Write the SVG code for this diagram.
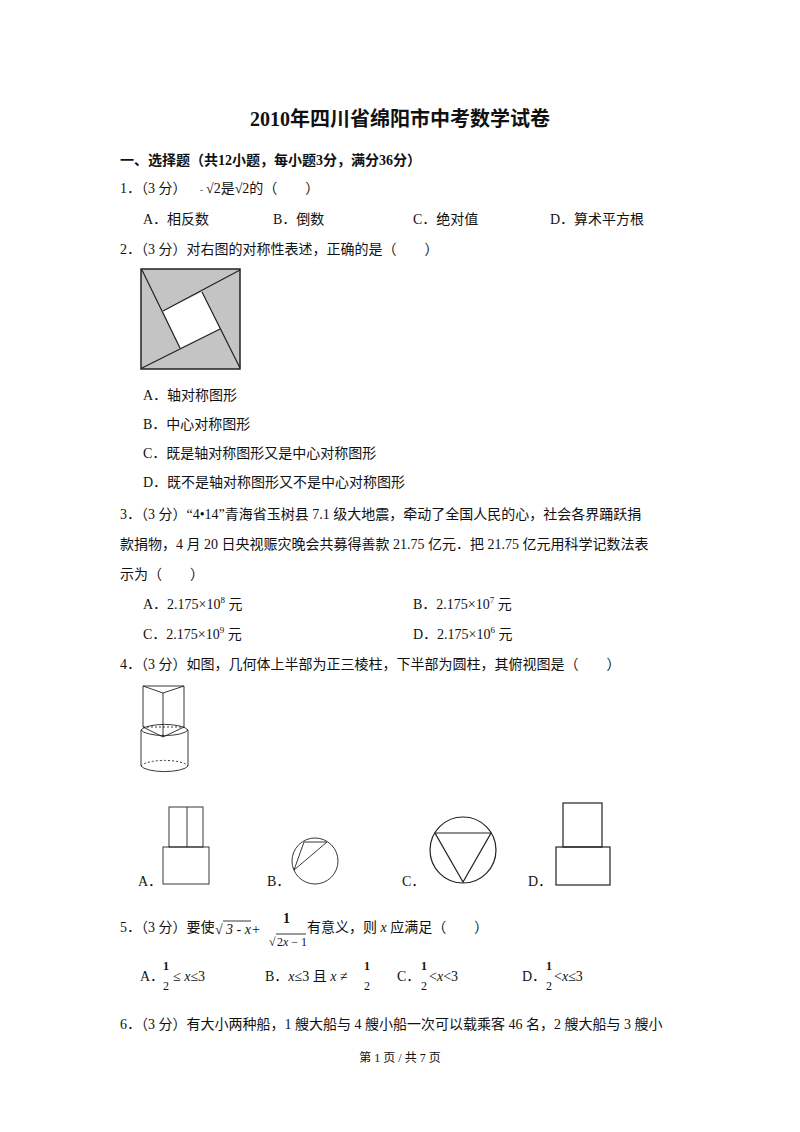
<svg xmlns="http://www.w3.org/2000/svg" width="800" height="1132" viewBox="0 0 800 1132">
<style>
text{font-family:"Liberation Serif","Noto Sans CJK SC",serif;font-size:14px;fill:#111}
.b{font-weight:bold}
.ln{stroke:#222;stroke-width:1.2;fill:none}
.th{stroke:#222;stroke-width:0.9;fill:none}
</style>
<rect width="800" height="1132" fill="#fff"/>
<text class="b" x="400" y="126" text-anchor="middle" style="font-size:20px">2010年四川省绵阳市中考数学试卷</text>
<text class="b" x="120" y="165">一、选择题（共12小题，每小题3分，满分36分）</text>
<g id="q1">
<text x="120" y="193">1．（3 分）</text>
<text x="200" y="193" style="font-size:9px">-</text>
<text x="206" y="193">√2是√2的（　　）</text>
<text x="143" y="224">A．相反数</text><text x="273" y="224">B．倒数</text><text x="413" y="224">C．绝对值</text><text x="550" y="224">D．算术平方根</text>
</g>
<g id="q2">
<text x="120" y="254">2．（3 分）对右图的对称性表述，正确的是（　　）</text>
<rect x="141" y="269" width="99" height="100" fill="#c4c4c4" stroke="#222" stroke-width="1.5"/>
<polygon points="163,311 202,292 220,329 180,348" fill="#fff"/>
<path class="ln" d="M240,270L163,311M142,270L180,348M142,368L220,329M240,368L202,292"/>
<text x="143" y="400">A．轴对称图形</text>
<text x="143" y="429">B．中心对称图形</text>
<text x="143" y="458">C．既是轴对称图形又是中心对称图形</text>
<text x="143" y="487">D．既不是轴对称图形又不是中心对称图形</text>
</g>
<g id="q3">
<text x="120" y="519">3．（3 分）“4•14”青海省玉树县 7.1 级大地震，牵动了全国人民的心，社会各界踊跃捐</text>
<text x="120" y="549">款捐物，4 月 20 日央视赈灾晚会共募得善款 21.75 亿元．把 21.75 亿元用科学记数法表</text>
<text x="120" y="579">示为（　　）</text>
<text x="143" y="609">A．2.175×10<tspan dy="-6" style="font-size:9px">8</tspan><tspan dy="6"> 元</tspan></text>
<text x="413" y="609">B．2.175×10<tspan dy="-6" style="font-size:9px">7</tspan><tspan dy="6"> 元</tspan></text>
<text x="143" y="639">C．2.175×10<tspan dy="-6" style="font-size:9px">9</tspan><tspan dy="6"> 元</tspan></text>
<text x="413" y="639">D．2.175×10<tspan dy="-6" style="font-size:9px">6</tspan><tspan dy="6"> 元</tspan></text>
</g>
<g id="q4">
<text x="120" y="669">4．（3 分）如图，几何体上半部为正三棱柱，下半部为圆柱，其俯视图是（　　）</text>
<path class="th" d="M143,686L184,686L163,693Z M143,686V727 M184,686V727 M163,693V737 M143,727L163,737L184,727"/>
<path class="th" stroke-dasharray="2,2" d="M143,727H184"/>
<path class="th" d="M141,730A24,7 0 0 1 188,730A24,7 0 0 1 141,730Z M141,730V766 M188,730V766 M141,766A24,7 0 0 0 188,766"/>
<path class="th" stroke-dasharray="2,2" d="M141,766A24,7 0 0 1 188,766"/>
<text x="138" y="886">A．</text>
<rect class="th" x="169" y="807" width="34" height="40"/><path class="th" d="M187,807V847"/>
<rect class="th" x="163" y="847" width="46" height="37"/>
<text x="267" y="886">B．</text>
<circle class="th" cx="315" cy="861" r="23"/>
<path class="th" d="M304,842H327L294,870Z"/>
<text x="402" y="886">C．</text>
<circle class="ln" cx="463" cy="850" r="33"/>
<path class="ln" d="M435,833H491L463,882Z"/>
<text x="528" y="886">D．</text>
<rect class="ln" x="563" y="803" width="39" height="44"/>
<rect class="ln" x="556" y="847" width="54" height="38"/>
</g>
<g id="q5">
<text x="120" y="932">5．（3 分）要使</text>
<text x="215" y="934">√</text><path class="th" d="M223,921H251"/>
<text x="226" y="934" style="font-style:italic">3 - x</text>
<text x="252" y="934">+</text>
<text class="b" x="283" y="923">1</text>
<text x="269" y="946" style="font-size:12px">√</text><path class="th" d="M276,934H306"/>
<text x="277" y="946" style="font-size:12px"><tspan>2</tspan><tspan style="font-style:italic">x</tspan> − 1</text>
<text x="307" y="932">有意义，则 <tspan style="font-style:italic">x</tspan> 应满足（　　）</text>
<text x="140" y="981">A．</text>
<text class="b" x="163" y="970" style="font-size:12px">1</text><text x="163" y="990" style="font-size:12px">2</text>
<text x="173" y="981">≤ <tspan style="font-style:italic">x</tspan>≤3</text>
<text x="265" y="981">B．<tspan style="font-style:italic">x</tspan>≤3 且 <tspan style="font-style:italic">x</tspan>  ≠</text>
<text class="b" x="364" y="970" style="font-size:12px">1</text><text x="364" y="990" style="font-size:12px">2</text>
<text x="397" y="981">C．</text>
<text class="b" x="421" y="970" style="font-size:12px">1</text><text x="421" y="990" style="font-size:12px">2</text>
<text x="429" y="981">&lt;<tspan style="font-style:italic">x</tspan>&lt;3</text>
<text x="522" y="981">D．</text>
<text class="b" x="546" y="970" style="font-size:12px">1</text><text x="546" y="990" style="font-size:12px">2</text>
<text x="554" y="981">&lt;<tspan style="font-style:italic">x</tspan>≤3</text>
</g>
<g id="q6">
<text x="120" y="1029">6．（3 分）有大小两种船，1 艘大船与 4 艘小船一次可以载乘客 46 名，2 艘大船与 3 艘小</text>
</g>
<text x="400" y="1062" text-anchor="middle" style="font-size:12px">第 1 页 / 共 7 页</text>
</svg>
